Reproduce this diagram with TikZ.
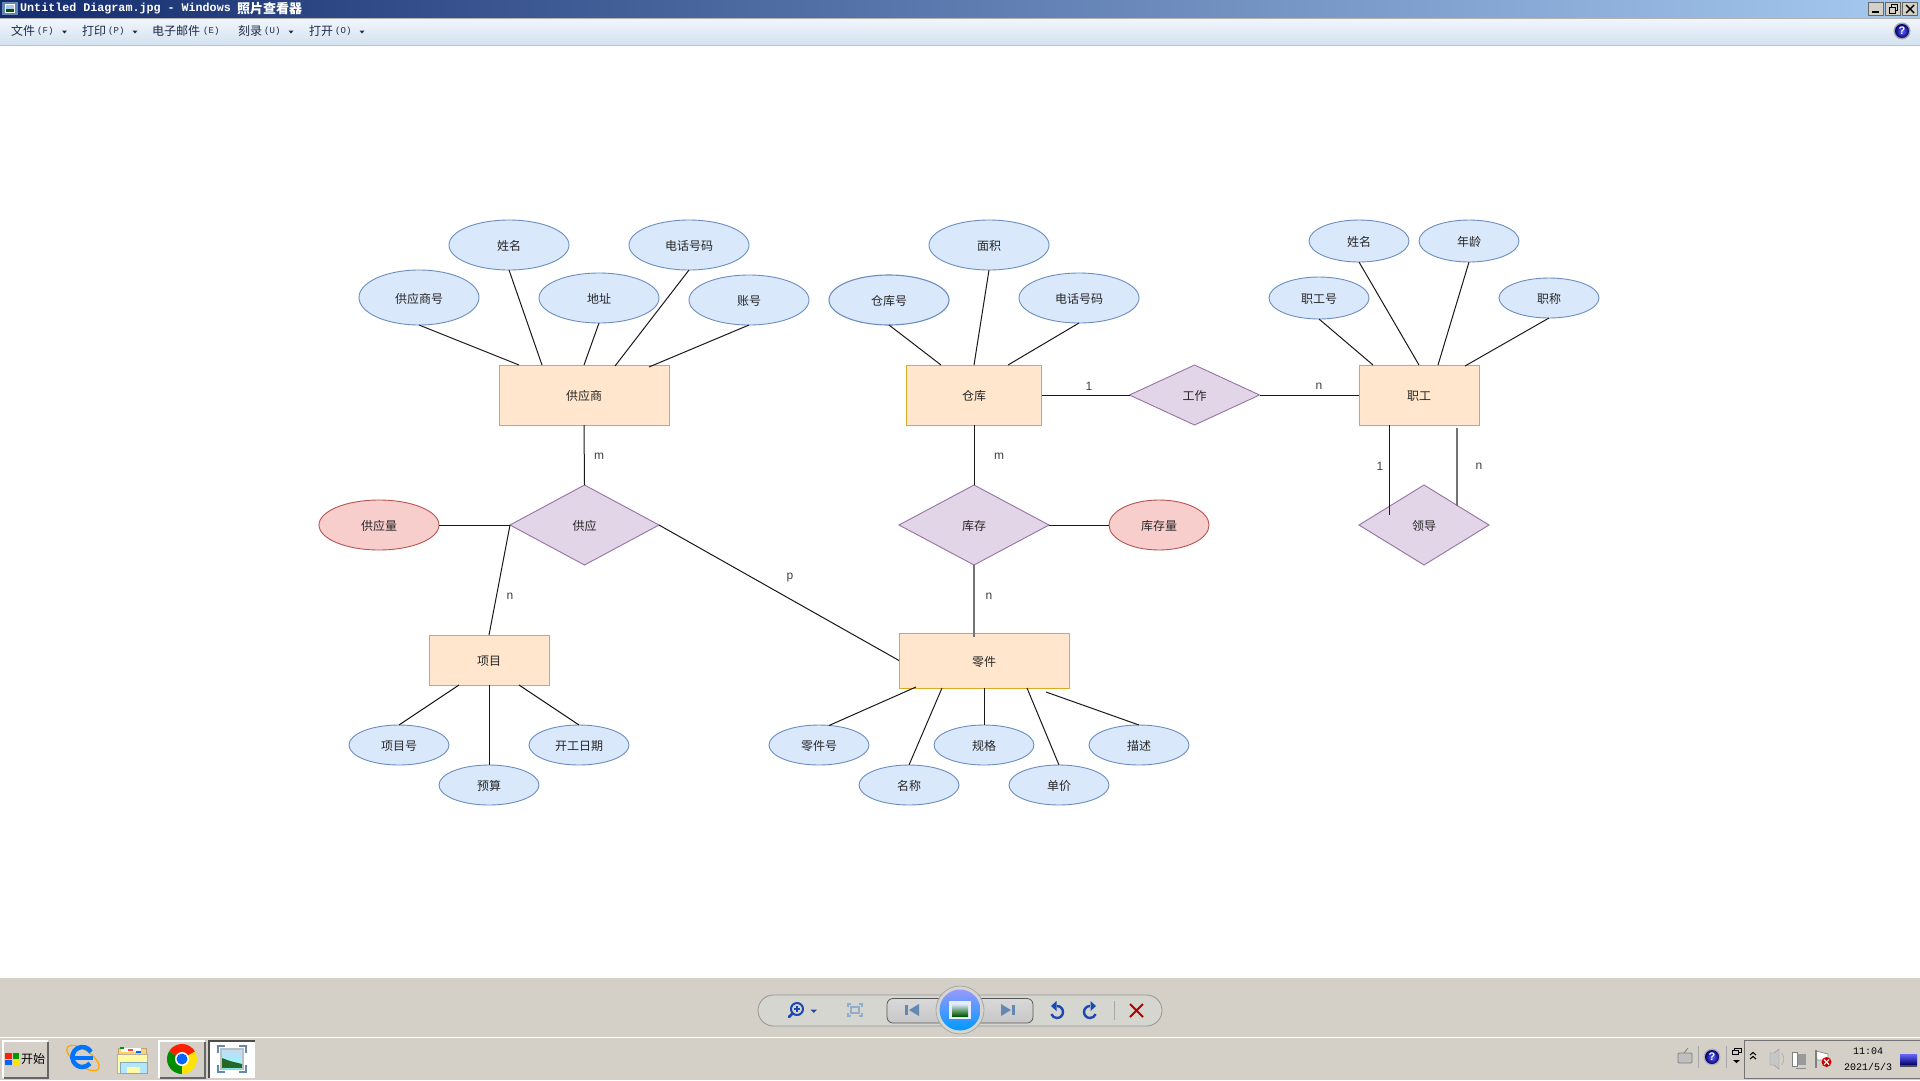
\documentclass[tikz,border=0pt]{standalone}
\usepackage{fontspec}
\setmainfont{Liberation Sans}
\newfontfamily\cjk{Noto Sans CJK SC}
\newfontfamily\mono{Liberation Mono}
\usetikzlibrary{shapes.geometric}
\definecolor{attrfill}{HTML}{DAE8FC}\definecolor{attrline}{HTML}{6C8EBF}
\definecolor{entfill}{HTML}{FFE6CC}\definecolor{entline}{HTML}{D79B00}
\definecolor{relfill}{HTML}{E1D5E7}\definecolor{relline}{HTML}{9673A6}
\definecolor{redfill}{HTML}{F8CECC}\definecolor{redline}{HTML}{B85450}
\definecolor{barbg}{HTML}{D4D0C8}\definecolor{pillbg}{HTML}{D6D6D0}
\definecolor{navy}{HTML}{142C6E}\definecolor{skyb}{HTML}{A6CAF0}
\definecolor{steel}{HTML}{6488B2}\definecolor{arrowb}{HTML}{1C48B4}
\definecolor{menutxt}{HTML}{1B2A48}\definecolor{menutop}{HTML}{F0F5FB}\definecolor{menubot}{HTML}{D5E2F0}
\tikzset{
  shapetext/.style={font=\cjk\fontsize{12}{14}\selectfont,text=black!85,text height=11pt,text depth=0pt},
  attr/.style={ellipse,draw=attrline,fill=attrfill,line width=.9pt,inner sep=0pt,outer sep=0pt,shapetext},
  redattr/.style={attr,draw=redline,fill=redfill},
  entity/.style={rectangle,draw=entline!85!white,fill=entfill,line width=1pt,inner sep=0pt,outer sep=0pt,shapetext},
  rel/.style={diamond,draw=relline,fill=relfill,line width=.9pt,inner sep=0pt,outer sep=0pt,shapetext},
  lab/.style={font=\fontsize{12}{14}\selectfont,text=black!75,inner sep=0pt},
  link/.style={draw=black!90,line width=1pt},
  grlink/.style={draw=black!55,line width=1.4pt},
  menuitem/.style={anchor=west,inner sep=0pt,font=\cjk\fontsize{12}{14}\selectfont,text=menutxt},
  menukey/.style={anchor=west,inner sep=0pt,font=\mono\fontsize{9}{10}\selectfont,text=menutxt},
  winbtn/.style={fill=barbg,draw=black!60,line width=.7pt},
  icon at/.style={shift={#1},y=1pt},
  traytext/.style={inner sep=0pt,font=\mono\fontsize{10}{12}\selectfont,text=black}
}
\begin{document}
\begin{tikzpicture}[x=1pt,y=-1pt]
\useasboundingbox (0,0) rectangle (1920,1080);
\fill[white] (0,0) rectangle (1920,1080);
% --- window chrome ---
\shade[left color=navy,right color=skyb] (0,0) rectangle (1920,18);
\fill[black!30] (0,18) rectangle (1920,19);
\shade[top color=menutop,bottom color=menubot] (0,19) rectangle (1920,45);
\fill[skyb!60!black!45] (0,45) rectangle (1920,46);
% title icon
\fill[steel] (2,2) rectangle (18,15);
\fill[white] (5,4) rectangle (15,13);
\fill[skyb] (6,5) rectangle (14,9);
\fill[green!35!black] (6,9) rectangle (14,12);
\node[anchor=west,inner sep=0pt,text=white,font=\mono\bfseries\fontsize{11.7}{13}\selectfont] (wintitle) at (20,8.5) {Untitled Diagram.jpg - Windows};
\node[anchor=west,inner sep=0pt,text=white,font=\cjk\bfseries\fontsize{13}{15}\selectfont] (wintitlecn) at (237,8.5) {照片查看器};
% window buttons
\draw[winbtn] (1868.5,2.5) rectangle (1883,15.5);
\fill[black] (1872,11) rectangle (1879,13);
\draw[winbtn] (1885.5,2.5) rectangle (1900,15.5);
\draw[black,line width=1pt] (1889,7) rectangle (1895,13);
\draw[black,line width=1pt] (1891,7) -- (1891,4.5) -- (1897,4.5) -- (1897,10.5) -- (1895,10.5);
\draw[winbtn] (1902.5,2.5) rectangle (1917,15.5);
\draw[black,line width=1.4pt] (1906,5) -- (1914,13) (1914,5) -- (1906,13);
% menu
\node[menuitem] (m1) at (11,31) {文件};\node[menukey] (k1) at (37,31) {(F)};
\node[menuitem] (m2) at (82,31) {打印};\node[menukey] (k2) at (108,31) {(P)};
\node[menuitem] (m3) at (152,31) {电子邮件};\node[menukey] (k3) at (203,31) {(E)};
\node[menuitem] (m4) at (238,31) {刻录};\node[menukey] (k4) at (264,31) {(U)};
\node[menuitem] (m5) at (309,31) {打开};\node[menukey] (k5) at (335,31) {(O)};
\foreach \tx in {64.5,135,291,362}{\fill[menutxt] (\tx-2.5,30.5) -- (\tx+2.5,30.5) -- (\tx,33.5) -- cycle;}
% help ball top
\fill[black!35] (1902,31) circle (8.5);
\shade[inner color=blue!60!white,outer color=blue!45!black] (1902,31) circle (7);
\node[inner sep=0pt,text=white,font=\bfseries\fontsize{11}{12}\selectfont] (helptop) at (1902,31) {?};
% --- bottom bars ---
\fill[barbg] (0,978) rectangle (1920,1080);
\fill[white] (0,1036.5) rectangle (1920,1037.5);
\draw[black!42,fill=pillbg,line width=.8pt,rounded corners=15.5pt] (758,995) rectangle (1162,1026);
% zoom lens
\draw[arrowb,line width=2pt] (797,1009) circle (6);
\draw[arrowb,line width=1.2pt] (794,1009) -- (800,1009) (797,1006) -- (797,1012);
\draw[arrowb,line width=2.6pt,line cap=round] (792.5,1013.5) -- (789,1017);
\fill[arrowb] (810.5,1009.5) -- (817,1009.5) -- (813.75,1013) -- cycle;
% actual size
\draw[steel!70,line width=1.6pt] (851,1007) rectangle (859,1013);
\draw[steel!70,line width=1.6pt] (848,1007) -- (848,1004) -- (851,1004) (859,1004) -- (862,1004) -- (862,1007)
  (862,1013) -- (862,1016) -- (859,1016) (851,1016) -- (848,1016) -- (848,1013);
% prev/next
\shade[draw=black!65,line width=.8pt,rounded corners=6pt,top color=black!15,middle color=black!42,bottom color=black!22] (887,998.5) rectangle (1033,1023);
\fill[steel] (905,1005) rectangle (908,1015);
\fill[steel] (909,1010) -- (919,1004) -- (919,1016) -- cycle;
\fill[steel] (1012,1005) rectangle (1015,1015);
\fill[steel] (1011,1010) -- (1001,1004) -- (1001,1016) -- cycle;
% central button
\draw[black!35,fill=pillbg,line width=.8pt] (960,1010) circle (24);
\shade[top color=blue!40!white,middle color=blue!85!black,bottom color=cyan!60!blue] (960,1010) circle (20.5);
\fill[white!92!blue] (949,1001) rectangle (971,1019);
\shade[top color=skyb!40!white,middle color=skyb!60!green!70!white,bottom color=green!35!black] (952,1004) rectangle (968,1016);
% undo / redo
\begin{scope}[icon at={(1057,1011)}]
  \draw[arrowb,line width=2.4pt] (0,5) arc[start angle=90,end angle=-160,radius=6];
  \fill[arrowb] (-6,5) -- (-0.5,10) -- (-0.5,0) -- cycle;
\end{scope}
\begin{scope}[icon at={(1090,1011)}]
  \draw[arrowb,line width=2.4pt] (0,5) arc[start angle=90,end angle=340,radius=6];
  \fill[arrowb] (6,5) -- (0.5,10) -- (0.5,0) -- cycle;
\end{scope}
\draw[black!35,line width=.9pt] (1114,1001) -- (1114,1020);
\draw[red!70!black,line width=2pt] (1130,1004) -- (1143,1017) (1143,1004) -- (1130,1017);
% start button
\fill[white] (2,1040) rectangle (48,1078);
\fill[black!60] (3.5,1041.5) rectangle (49,1079);
\fill[barbg] (3.5,1041.5) rectangle (47,1076.5);
\fill[red!75!orange] (5,1053) rectangle (11.5,1058.5);
\fill[green!60!black] (12.5,1053) rectangle (19,1058.5);
\fill[blue!60!cyan] (5,1059.5) rectangle (11.5,1065);
\fill[yellow!85!orange] (12.5,1059.5) rectangle (19,1065);
\node[inner sep=0pt,text=black,font=\cjk\fontsize{12}{14}\selectfont] (startlabel) at (33,1059) {开始};
% IE
\draw[orange!70!yellow,line width=1.3pt,rotate around={-35:(83,1058)}] (83,1058) ellipse (19 and 8);
\draw[blue!55!cyan,line width=4.5pt] (91,1052) arc[start angle=-30,end angle=-320,radius=10];
\draw[blue!55!cyan,line width=3.5pt] (74,1058) -- (93,1058);
% folder
\fill[yellow!50!orange!60!white,draw=orange!50!black!50] (118,1048) rectangle (146,1073);
\fill[white] (121,1048) rectangle (141,1052);
\fill[green!60!black] (120,1047) rectangle (124,1049);
\fill[red!75] (128,1049) rectangle (133,1051);
\fill[blue!60!cyan] (136,1051) rectangle (141,1053);
\fill[yellow!35!white,draw=orange!40!black!40] (117,1054) rectangle (147,1073);
\fill[cyan!30!white,draw=cyan!50!black!60] (120,1062) rectangle (147,1073);
\fill[yellow!35!white] (127,1067) rectangle (140,1073);
% chrome button
\fill[white] (158,1040) rectangle (205,1078);
\fill[black!60] (159.5,1041.5) rectangle (206,1079);
\fill[barbg] (159.5,1041.5) rectangle (204,1076.5);
\begin{scope}[icon at={(182,1059)}]
  \fill[red!75!orange] (0,0) -- (150:15) arc[start angle=150,end angle=30,radius=15] -- cycle;
  \fill[green!55!black] (0,0) -- (150:15) arc[start angle=150,end angle=270,radius=15] -- cycle;
  \fill[yellow!85!orange] (0,0) -- (270:15) arc[start angle=270,end angle=390,radius=15] -- cycle;
  \fill[white] (0,0) circle (7);
  \fill[blue!60!cyan] (0,0) circle (5.5);
\end{scope}
% viewer button
\fill[black!70] (208,1040) rectangle (255,1078);
\fill[white] (209.5,1041.5) rectangle (255,1078);
\draw[steel,line width=2.4pt] (218,1053) -- (218,1046) -- (225,1046) (239,1046) -- (246,1046) -- (246,1053)
  (246,1065) -- (246,1072) -- (239,1072) (225,1072) -- (218,1072) -- (218,1065);
\fill[black!25] (220,1048) rectangle (244,1070);
\shade[top color=skyb!70!white,bottom color=cyan!45!white] (222,1050) rectangle (242,1068);
\fill[green!30!black!85] (222,1058) -- (230,1061) -- (242,1064) -- (242,1068) -- (222,1068) -- cycle;
% tray left
\draw[black!50,fill=black!25,line width=.8pt,rounded corners=1pt] (1678,1053) rectangle (1692,1063);
\draw[black!50,line width=.8pt] (1684,1053) -- (1688,1048);
\fill[black!35] (1697.5,1046) rectangle (1698.5,1068);
\fill[black!30] (1712,1057) circle (8.5);
\shade[inner color=blue!60!white,outer color=blue!45!black] (1712,1057) circle (7);
\node[inner sep=0pt,text=white,font=\bfseries\fontsize{11}{12}\selectfont] (helptray) at (1712,1057) {?};
\fill[black!35] (1725.5,1046) rectangle (1726.5,1068);
\draw[black,line width=.9pt] (1732,1050) rectangle (1738,1054) (1734,1050) -- (1734,1048) -- (1741,1048) -- (1741,1052) -- (1738,1052);
\fill[black] (1733,1060) -- (1740,1060) -- (1736.5,1063) -- cycle;
% tray
\draw[black!55,line width=1pt] (1744.5,1040.5) rectangle (1921,1078);
\draw[black,line width=1.1pt] (1750,1055) -- (1753,1052.5) -- (1756,1055) (1750,1059) -- (1753,1056.5) -- (1756,1059);
\fill[black!22,draw=black!45] (1770,1053) -- (1774,1053) -- (1779,1049) -- (1779,1069) -- (1774,1065) -- (1770,1065) -- cycle;
\draw[black!30,line width=.8pt] (1782,1053) to[bend left=30] (1782,1065);
\fill[black!40] (1795,1054) rectangle (1806,1065);
\draw[black!50,fill=white,line width=.8pt] (1792,1052) rectangle (1797,1066);
\draw[black!45,line width=.9pt] (1796,1068) -- (1806,1068);
\draw[black!45,fill=white,line width=.8pt] (1816,1051) -- (1828,1054) -- (1828,1060) -- (1817,1060) -- cycle;
\draw[black!50,line width=1.1pt] (1816,1050) -- (1816,1068);
\fill[red!80!black] (1826.5,1062) circle (5);
\draw[white,line width=1.1pt] (1824,1059.5) -- (1829,1064.5) (1829,1059.5) -- (1824,1064.5);
\node[traytext] (clock) at (1868,1051) {11:04};
\node[traytext] (date) at (1868,1067) {2021/5/3};
\shade[top color=blue!60!white,bottom color=blue!40!black] (1900,1054) rectangle (1917,1065);
\fill[black!70] (1900,1065) rectangle (1917,1067);
% --- ER nodes ---
% supplier
\node[entity,minimum width=170pt,minimum height=60pt] (sup) at (584,395) {供应商};
\node[attr,minimum width=120pt,minimum height=55pt] (sup1) at (419,297.5) {供应商号};
\node[attr,minimum width=120pt,minimum height=50pt] (sup2) at (509,245) {姓名};
\node[attr,minimum width=120pt,minimum height=50pt] (sup3) at (599,298) {地址};
\node[attr,minimum width=120pt,minimum height=50pt] (sup4) at (689,245) {电话号码};
\node[attr,minimum width=120pt,minimum height=50pt] (sup5) at (749,300) {账号};
\node[rel,minimum width=149pt,minimum height=80pt] (gy) at (584.5,525) {供应};
\node[redattr,minimum width=120pt,minimum height=50pt] (gyl) at (379,525) {供应量};
% warehouse
\node[entity,minimum width=135pt,minimum height=60pt] (wh) at (974,395) {仓库};
\node[attr,minimum width=120pt,minimum height=50pt,line width=1.1pt] (wh1) at (889,300) {仓库号};
\node[attr,minimum width=120pt,minimum height=50pt] (wh2) at (989,245) {面积};
\node[attr,minimum width=120pt,minimum height=50pt] (wh3) at (1079,298) {电话号码};
\node[rel,minimum width=150pt,minimum height=80pt] (kc) at (974,525) {库存};
\node[redattr,minimum width=100pt,minimum height=50pt] (kcl) at (1159,525) {库存量};
\node[rel,minimum width=130pt,minimum height=60pt] (gz) at (1194.5,395) {工作};
% staff
\node[entity,minimum width=120pt,minimum height=60pt] (st) at (1419,395) {职工};
\node[attr,minimum width=100pt,minimum height=42pt] (st1) at (1319,298) {职工号};
\node[attr,minimum width=100pt,minimum height=42pt] (st2) at (1359,241) {姓名};
\node[attr,minimum width=100pt,minimum height=42pt] (st3) at (1469,241) {年龄};
\node[attr,minimum width=100pt,minimum height=40pt] (st4) at (1549,298) {职称};
\node[rel,minimum width=130pt,minimum height=80pt] (ld) at (1424,525) {领导};
% project
\node[entity,minimum width=120pt,minimum height=50pt] (pj) at (489,660) {项目};
\node[attr,minimum width=100pt,minimum height=40pt] (pj1) at (399,745) {项目号};
\node[attr,minimum width=100pt,minimum height=40pt] (pj2) at (489,785) {预算};
\node[attr,minimum width=100pt,minimum height=40pt] (pj3) at (579,745) {开工日期};
% part
\node[entity,minimum width=170pt,minimum height=55pt] (pt) at (984,660.5) {零件};
\node[attr,minimum width=100pt,minimum height=40pt] (pt1) at (819,745) {零件号};
\node[attr,minimum width=100pt,minimum height=40pt] (pt2) at (909,785) {名称};
\node[attr,minimum width=100pt,minimum height=40pt] (pt3) at (984,745) {规格};
\node[attr,minimum width=100pt,minimum height=40pt] (pt4) at (1059,785) {单价};
\node[attr,minimum width=100pt,minimum height=40pt] (pt5) at (1139,745) {描述};
% free ends
\coordinate (supa) at (519,365);\coordinate (supb) at (542,365);\coordinate (supc) at (615,366);\coordinate (supd) at (649,367);
\coordinate (wha) at (941,365);\coordinate (whb) at (974,365);\coordinate (whc) at (1008,365);
\coordinate (sta) at (1373,365);\coordinate (stb) at (1419,365);\coordinate (stc) at (1438,365);\coordinate (std) at (1465,366);
\coordinate (pja) at (459,685);\coordinate (pjb) at (519,685);
\coordinate (pta) at (916,687);\coordinate (ptatop) at (829,725.5);\coordinate (ptb) at (942,688);\coordinate (ptc) at (1027,688);\coordinate (ptd) at (1046,692);\coordinate (pte) at (974,637);
\coordinate (lda1) at (1389,425);\coordinate (lda2) at (1389,515);\coordinate (ldb1) at (1457,428);\coordinate (ldb2) at (1457,506);
% connectors
\draw[link] (sup1.south) -- (supa);
\draw[link] (sup2.south) -- (supb);
\draw[link] (sup3.south) -- (sup.north);
\draw[link] (sup4.south) -- (supc);
\draw[link] (sup5.south) -- (supd);
\draw[link] (sup.south) -- (gy.north);
\draw[link] (gyl.east) -- (gy.west);
\draw[link] (gy.west) -- (pj.north);
\draw[link] (gy.east) -- (pt.west);
\draw[link] (wh1.south) -- (wha);
\draw[link] (wh2.south) -- (whb);
\draw[link] (wh3.south) -- (whc);
\draw[link] (wh.south) -- (kc.north);
\draw[link] (kc.east) -- (kcl.west);
\draw[grlink] (kc.south) -- (pte);
\draw[link] (wh.east) -- (gz.west);
\draw[link] (gz.east) -- (st.west);
\draw[link] (st1.south) -- (sta);
\draw[link] (st2.south) -- (stb);
\draw[link] (st3.south) -- (stc);
\draw[link] (st4.south) -- (std);
\draw[link] (lda1) -- (lda2);
\draw[grlink] (ldb1) -- (ldb2);
\draw[link] (pj1.north) -- (pja);
\draw[link] (pj2.north) -- (pj.south);
\draw[link] (pj3.north) -- (pjb);
\draw[link] (ptatop) -- (pta);
\draw[link] (pt2.north) -- (ptb);
\draw[link] (pt3.north) -- (pt3.north |- pt.south);
\draw[link] (pt4.north) -- (ptc);
\draw[link] (pt5.north) -- (ptd);
% labels
\node[lab] (l1) at (599,456) {m};
\node[lab] (l2) at (510,596) {n};
\node[lab] (l3) at (790,577.5) {p};
\node[lab] (l4) at (999,456) {m};
\node[lab] (l5) at (989,596) {n};
\node[lab] (l6) at (1089,386) {1};
\node[lab] (l7) at (1319,386) {n};
\node[lab] (l8) at (1380,466) {1};
\node[lab] (l9) at (1479,466) {n};
\end{tikzpicture}
\end{document}
